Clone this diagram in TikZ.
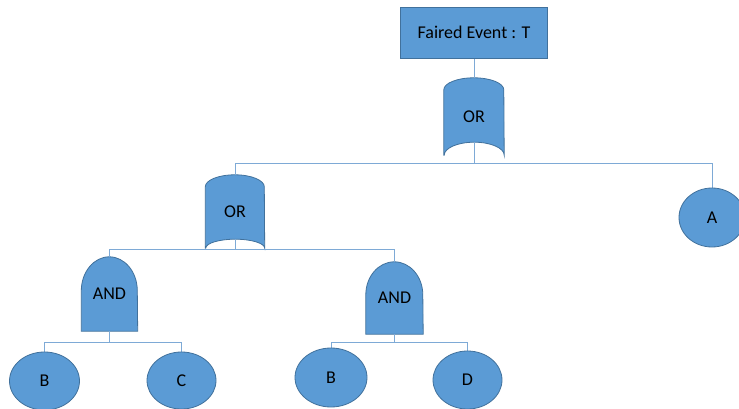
\documentclass[tikz,border=0pt]{standalone}
\usepackage{fontspec}
\setmainfont{Carlito}
\usetikzlibrary{backgrounds,shapes.geometric}
\definecolor{gatefill}{RGB}{91,155,213}
\definecolor{gateedge}{RGB}{65,113,156}
\definecolor{wirecol}{RGB}{126,170,214}
\tikzset{
  lbl/.style={font=\fontsize{18}{21}\selectfont, text=black},
  evbox/.style={lbl, draw=gateedge, fill=gatefill, line width=0.8pt, minimum width=147pt, minimum height=51pt, inner sep=0pt},
  basic/.style={lbl, ellipse, draw=gateedge, fill=gatefill, line width=0.8pt, inner sep=0pt},
  gatebox/.style={lbl, inner sep=0pt},
  gateshape/.style={draw=gateedge, fill=gatefill, line width=0.8pt},
  wire/.style={draw=wirecol, line width=0.8pt},
}
\begin{document}
\begin{tikzpicture}[x=1pt,y=1pt]
\useasboundingbox (0,0) rectangle (739,-409);
% top event
\node[evbox] (top) at (474,-32.5) {Faired Event : T};
% gates (text nodes, shapes drawn behind)
\node[gatebox, minimum width=60pt, minimum height=77pt] (or1) at (474,-116.5) {OR};
\node[gatebox, minimum width=59pt, minimum height=73pt] (or2) at (235,-211.5) {OR};
\node[gatebox, minimum width=56pt, minimum height=74pt] (and1) at (109.5,-294) {AND};
\node[gatebox, minimum width=57pt, minimum height=72pt] (and2) at (394.5,-298) {AND};
% basic events
\node[basic, minimum width=70pt, minimum height=58pt] (b1) at (44.5,-381) {B};
\node[basic, minimum width=69pt, minimum height=57pt] (c) at (181.5,-380.5) {C};
\node[basic, minimum width=72pt, minimum height=59pt] (b2) at (331,-377.5) {B};
\node[basic, minimum width=69pt, minimum height=58pt] (d) at (467.5,-380) {D};
\node[basic, minimum width=66pt, minimum height=59pt] (a) at (712,-217.5) {A};
\begin{scope}[on background layer]
  \fill[white] (0,0) rectangle (739,-409);
  % OR gate shapes
  \draw[gateshape] (or1.south west) -- ([yshift=-12pt]or1.north west)
     arc[start angle=180, end angle=0, x radius=30pt, y radius=12pt]
     -- (or1.south east)
     arc[start angle=0, end angle=180, x radius=30pt, y radius=13pt] -- cycle;
  \draw[gateshape] (or2.south west) -- ([yshift=-12pt]or2.north west)
     arc[start angle=180, end angle=0, x radius=29.5pt, y radius=12pt]
     -- (or2.south east)
     arc[start angle=0, end angle=180, x radius=29.5pt, y radius=9pt] -- cycle;
  % AND gate shapes
  \draw[gateshape] (and1.south west) -- ([yshift=-34pt]and1.north west)
     arc[start angle=180, end angle=0, x radius=28pt, y radius=34pt]
     -- (and1.south east) -- cycle;
  \draw[gateshape] (and2.south west) -- ([yshift=-33pt]and2.north west)
     arc[start angle=180, end angle=0, x radius=28.5pt, y radius=33pt]
     -- (and2.south east) -- cycle;
  % connectors
  \coordinate (or1b) at ([yshift=13pt]or1.south);
  \coordinate (or2b) at ([yshift=9pt]or2.south);
  \draw[wire] (top.south) -- (or1.north);
  \draw[wire] (or1b) -- ++(0,-21) coordinate (j1) -| (or2.north);
  \draw[wire] (j1) -| (a.north);
  \draw[wire] (or2b) -- ++(0,-10) coordinate (j2) -| (and1.north);
  \draw[wire] (j2) -| (and2.north);
  \draw[wire] (and1.south) -- ++(0,-11) coordinate (j3) -| (b1.north);
  \draw[wire] (j3) -| (c.north);
  \draw[wire] (and2.south) -- ++(0,-8) coordinate (j4) -| (b2.north);
  \draw[wire] (j4) -| (d.north);
\end{scope}
\end{tikzpicture}
\end{document}
